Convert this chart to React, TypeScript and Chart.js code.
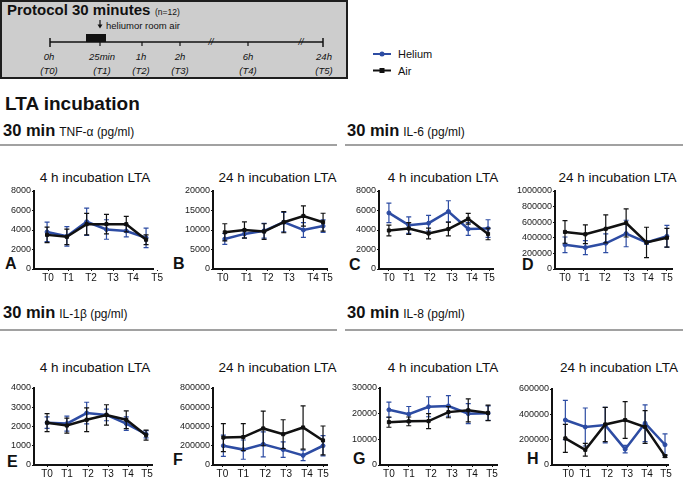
import React, { useEffect, useRef } from 'react';
import { Chart, registerables } from 'chart.js';

Chart.register(...registerables);

const FONT = '"Liberation Sans", Arial, Helvetica, sans-serif';
const HELIUM_COLOR = '#2d4ca3';
const AIR_COLOR = '#111111';

// ---- data ----
const timeLabels = ['T0', 'T1', 'T2', 'T3', 'T4', 'T5'];

// TNF-α
const tnf4hHelium = [3800, 3350, 4850, 4050, 3900, 3200];
const tnf4hHeliumErr = [1000, 1000, 1400, 1000, 600, 1000];
const tnf4hAir = [3500, 3300, 4600, 4600, 4600, 3000];
const tnf4hAirErr = [800, 800, 1100, 1000, 800, 500];

const tnf24hHelium = [7700, 9000, 9800, 12000, 10000, 11000];
const tnf24hHeliumErr = [1400, 1000, 1900, 2500, 1900, 1600];
const tnf24hAir = [9400, 10000, 9600, 12000, 13600, 12000];
const tnf24hAirErr = [2200, 2100, 2000, 2700, 2600, 2300];

// IL-6
const il6_4hHelium = [5750, 4500, 4700, 5900, 4100, 4150];
const il6_4hHeliumErr = [1000, 850, 800, 1100, 650, 900];
const il6_4hAir = [3950, 4150, 3650, 4100, 5150, 3600];
const il6_4hAirErr = [550, 600, 550, 700, 550, 600];

const il6_24hHelium = [310000, 275000, 330000, 455000, 340000, 420000];
const il6_24hHeliumErr = [100000, 90000, 120000, 170000, 20000, 140000];
const il6_24hAir = [475000, 445000, 515000, 590000, 340000, 400000];
const il6_24hAirErr = [145000, 120000, 180000, 180000, 195000, 120000];

// IL-1β
const il1b_4hHelium = [2200, 2150, 2700, 2600, 2150, 1600];
const il1b_4hHeliumErr = [300, 390, 560, 300, 350, 190];
const il1b_4hAir = [2200, 2050, 2350, 2600, 2350, 1550];
const il1b_4hAirErr = [470, 390, 620, 530, 460, 260];

const il1b_24hHelium = [200000, 160000, 215000, 160000, 100000, 200000];
const il1b_24hHeliumErr = [110000, 100000, 130000, 80000, 55000, 105000];
const il1b_24hAir = [285000, 290000, 380000, 320000, 390000, 255000];
const il1b_24hAirErr = [145000, 140000, 180000, 150000, 225000, 150000];

// IL-8
const il8_4hHelium = [21500, 19800, 22700, 23000, 20000, 20200];
const il8_4hHeliumErr = [3000, 3000, 3900, 4000, 3900, 2800];
const il8_4hAir = [16700, 17000, 17100, 20600, 21300, 20300];
const il8_4hAirErr = [2000, 1700, 2900, 2200, 4500, 3000];

const il8_24hHelium = [355000, 300000, 315000, 125000, 330000, 160000];
const il8_24hHeliumErr = [155000, 150000, 140000, 30000, 145000, 85000];
const il8_24hAir = [210000, 120000, 320000, 355000, 300000, 70000];
const il8_24hAirErr = [110000, 50000, 135000, 145000, 130000, 10000];

// ---- layout (page pixels for plot areas, tick label positions in index units) ----
const Y_AXIS_W = 44;
const PAD_TOP = 8;
const PAD_RIGHT = 12;
const X_AXIS_H = 16;

type PanelCfg = {
  helium: number[]; heliumErr: number[]; air: number[]; airErr: number[];
  yMax: number; yStep: number;
  left: number; right: number; top: number; bottom: number;
  xMin: number; xMax: number; tickPos: number[];
};

const panels: PanelCfg[] = [
  { helium: tnf4hHelium, heliumErr: tnf4hHeliumErr, air: tnf4hAir, airErr: tnf4hAirErr,
    yMax: 8000, yStep: 2000, left: 34, right: 153, top: 191, bottom: 269,
    xMin: -0.66, xMax: 5.35, tickPos: [0.05, 1.06, 2.22, 3.33, 4.34, 5.56] },
  { helium: tnf24hHelium, heliumErr: tnf24hHeliumErr, air: tnf24hAir, airErr: tnf24hAirErr,
    yMax: 20000, yStep: 5000, left: 213, right: 327, top: 191, bottom: 269,
    xMin: -0.6, xMax: 5.2, tickPos: [-0.1, 1.12, 2.19, 3.27, 4.49, 5.2] },
  { helium: il6_4hHelium, heliumErr: il6_4hHeliumErr, air: il6_4hAir, airErr: il6_4hAirErr,
    yMax: 8000, yStep: 2000, left: 379, right: 493, top: 191, bottom: 269,
    xMin: -0.5, xMax: 5.25, tickPos: [0, 1.01, 2.07, 3.18, 4.19, 5.05] },
  { helium: il6_24hHelium, heliumErr: il6_24hHeliumErr, air: il6_24hAir, airErr: il6_24hAirErr,
    yMax: 1000000, yStep: 200000, left: 555, right: 672, top: 191, bottom: 269,
    xMin: -0.49, xMax: 5.25, tickPos: [0, 0.93, 1.96, 3.14, 4.07, 5] },
  { helium: il1b_4hHelium, heliumErr: il1b_4hHeliumErr, air: il1b_4hAir, airErr: il1b_4hAirErr,
    yMax: 4000, yStep: 1000, left: 34, right: 152, top: 388, bottom: 465,
    xMin: -0.66, xMax: 5.3, tickPos: [0, 1.01, 2.07, 3.08, 4.09, 5.05] },
  { helium: il1b_24hHelium, heliumErr: il1b_24hHeliumErr, air: il1b_24hAir, airErr: il1b_24hAirErr,
    yMax: 800000, yStep: 200000, left: 213, right: 327, top: 388, bottom: 465,
    xMin: -0.52, xMax: 5.2, tickPos: [-0.05, 1, 2.1, 3.15, 4.2, 5] },
  { helium: il8_4hHelium, heliumErr: il8_4hHeliumErr, air: il8_4hAir, airErr: il8_4hAirErr,
    yMax: 30000, yStep: 10000, left: 380, right: 497, top: 388, bottom: 465,
    xMin: -0.45, xMax: 5.45, tickPos: [0, 1.01, 2.12, 3.18, 4.19, 5.2] },
  { helium: il8_24hHelium, heliumErr: il8_24hHeliumErr, air: il8_24hAir, airErr: il8_24hAirErr,
    yMax: 600000, yStep: 200000, left: 552, right: 668, top: 389, bottom: 465,
    xMin: -0.67, xMax: 5.15, tickPos: [0.15, 1, 2.1, 3.1, 4.1, 5.05] },
];

const errorBarPlugin = {
  id: 'errorBars',
  afterDatasetDraw(chart: any, args: any) {
    const ds = chart.data.datasets[args.index];
    const errs: number[] = ds.errors;
    if (!errs) return;
    const yScale = chart.scales.y;
    const ctx = chart.ctx;
    ctx.save();
    ctx.strokeStyle = ds.borderColor;
    ctx.lineWidth = 1.2;
    args.meta.data.forEach((pt: any, j: number) => {
      const v = ds.data[j].y;
      const yTop = yScale.getPixelForValue(v + errs[j]);
      const yBot = yScale.getPixelForValue(Math.max(0, v - errs[j]));
      const x = pt.x;
      ctx.beginPath();
      ctx.moveTo(x, yTop);
      ctx.lineTo(x, yBot);
      ctx.moveTo(x - 2.5, yTop);
      ctx.lineTo(x + 2.5, yTop);
      ctx.moveTo(x - 2.5, yBot);
      ctx.lineTo(x + 2.5, yBot);
      ctx.stroke();
    });
    ctx.restore();
  },
};

function Panel({ cfg }: { cfg: PanelCfg }) {
  const ref = useRef<HTMLCanvasElement | null>(null);
  const w = cfg.right - cfg.left + Y_AXIS_W + PAD_RIGHT;
  const h = cfg.bottom - cfg.top + PAD_TOP + X_AXIS_H;
  useEffect(() => {
    if (!ref.current) return;
    const chart = new Chart(ref.current, {
      type: 'line',
      data: {
        datasets: [
          {
            label: 'Air',
            data: cfg.air.map((v, i) => ({ x: i, y: v })),
            errors: cfg.airErr,
            borderColor: AIR_COLOR,
            backgroundColor: AIR_COLOR,
            borderWidth: 2.5,
            pointStyle: 'rect',
            pointRadius: 2.2,
            pointBorderWidth: 1,
            tension: 0,
          } as any,
          {
            label: 'Helium',
            data: cfg.helium.map((v, i) => ({ x: i, y: v })),
            errors: cfg.heliumErr,
            borderColor: HELIUM_COLOR,
            backgroundColor: HELIUM_COLOR,
            borderWidth: 2.5,
            pointStyle: 'circle',
            pointRadius: 2,
            pointBorderWidth: 1,
            tension: 0,
          } as any,
        ],
      },
      options: {
        responsive: false,
        animation: false,
        devicePixelRatio: 1,
        events: [],
        layout: { padding: { left: 0, top: PAD_TOP, right: PAD_RIGHT, bottom: 0 } },
        plugins: { legend: { display: false }, tooltip: { enabled: false }, title: { display: false } },
        scales: {
          x: {
            type: 'linear',
            min: cfg.xMin,
            max: cfg.xMax,
            afterBuildTicks: (s: any) => {
              s.ticks = cfg.tickPos.map((v) => ({ value: v }));
            },
            afterFit: (s: any) => {
              s.height = X_AXIS_H;
              s.paddingLeft = 0;
              s.paddingRight = 0;
            },
            ticks: {
              autoSkip: false,
              maxRotation: 0,
              minRotation: 0,
              padding: 1,
              color: '#111',
              font: { family: FONT, size: 10 },
              callback: (_v: any, i: number) => timeLabels[i],
            },
            grid: { display: true, drawOnChartArea: false, drawTicks: true, tickLength: 2, color: '#111', lineWidth: 1 },
            border: { display: true, color: '#111', width: 2 },
          },
          y: {
            type: 'linear',
            min: 0,
            max: cfg.yMax,
            afterFit: (s: any) => {
              s.width = Y_AXIS_W;
              s.paddingTop = 0;
              s.paddingBottom = 0;
            },
            ticks: {
              stepSize: cfg.yStep,
              padding: 1,
              color: '#222',
              font: { family: FONT, size: 9 },
              callback: (v: any) => String(v),
            },
            grid: { display: true, drawOnChartArea: false, drawTicks: true, tickLength: 2, color: '#111', lineWidth: 1 },
            border: { display: true, color: '#111', width: 2 },
          },
        },
      } as any,
      plugins: [errorBarPlugin as any],
    });
    return () => chart.destroy();
  }, [cfg]);
  return (
    <canvas
      ref={ref}
      width={w}
      height={h}
      style={{ position: 'absolute', left: cfg.left - Y_AXIS_W, top: cfg.top - PAD_TOP, width: w, height: h }}
    />
  );
}

const panelTitles = [
  { text: '4 h incubation LTA', x: 95, y: 182 },
  { text: '24 h incubation LTA', x: 277.5, y: 182 },
  { text: '4 h incubation LTA', x: 443, y: 182 },
  { text: '24 h incubation LTA', x: 617.5, y: 182 },
  { text: '4 h incubation LTA', x: 95, y: 371.5 },
  { text: '24 h incubation LTA', x: 277.5, y: 371.5 },
  { text: '4 h incubation LTA', x: 443, y: 371.5 },
  { text: '24 h incubation LTA', x: 619, y: 371.5 },
];

const panelLetters = [
  { t: 'A', x: 5, y: 268.5 }, { t: 'B', x: 173, y: 268.5 }, { t: 'C', x: 349, y: 269.5 }, { t: 'D', x: 522, y: 269.5 },
  { t: 'E', x: 7, y: 467 }, { t: 'F', x: 173, y: 465 }, { t: 'G', x: 353, y: 463.5 }, { t: 'H', x: 527, y: 463.5 },
];

const headers = [
  { label: 'TNF-α (pg/ml)', x: 3, y: 136 },
  { label: 'IL-6 (pg/ml)', x: 347, y: 136 },
  { label: 'IL-1β (pg/ml)', x: 3, y: 317.5 },
  { label: 'IL-8 (pg/ml)', x: 347, y: 317.5 },
];

const timelineMarks = [
  { top: '0h', bottom: '(T0)', x: 49 },
  { top: '25min', bottom: '(T1)', x: 102 },
  { top: '1h', bottom: '(T2)', x: 141 },
  { top: '2h', bottom: '(T3)', x: 180 },
  { top: '6h', bottom: '(T4)', x: 248 },
  { top: '24h', bottom: '(T5)', x: 324 },
];

export default function App() {
  return (
    <div style={{ position: 'absolute', left: 0, top: 0, width: 685, height: 482, background: '#fff', overflow: 'hidden' }}>
      <svg width={685} height={482} style={{ position: 'absolute', left: 0, top: 0 }} fontFamily={FONT}>
        {/* protocol box */}
        <rect x={1} y={1} width={346} height={77} fill="#cdcdcd" stroke="#1e1e1e" strokeWidth={2} />
        <text x={7} y={15} fontSize={15} fontWeight="bold" fill="#111">Protocol 30 minutes</text>
        <text x={155} y={15} fontSize={8.5} fill="#111">(n=12)</text>
        <line x1={100} y1={20} x2={100} y2={25} stroke="#111" strokeWidth={1.2} />
        <polygon points="97.5,24.5 102.5,24.5 100,28.5" fill="#111" />
        <text x={106} y={28.5} fontSize={9.5} fill="#111">heliumor room air</text>
        <line x1={50} y1={42} x2={323} y2={42} stroke="#111" strokeWidth={1.5} />
        <line x1={50} y1={38} x2={50} y2={47} stroke="#111" strokeWidth={1.5} />
        <line x1={323} y1={38} x2={323} y2={47} stroke="#111" strokeWidth={1.5} />
        {[100, 142, 180, 248].map((x) => (
          <line key={x} x1={x} y1={42} x2={x} y2={46} stroke="#111" strokeWidth={1.2} />
        ))}
        <rect x={86} y={34} width={20} height={8} fill="#111" />
        <text x={211} y={45} fontSize={9} fontStyle="italic" textAnchor="middle" fill="#111">//</text>
        <text x={301} y={45} fontSize={9} fontStyle="italic" textAnchor="middle" fill="#111">//</text>
        {timelineMarks.map((m) => (
          <g key={m.bottom}>
            <text x={m.x} y={60} fontSize={9.5} fontStyle="italic" textAnchor="middle" fill="#111">{m.top}</text>
            <text x={m.x} y={74} fontSize={9.5} fontStyle="italic" textAnchor="middle" fill="#111">{m.bottom}</text>
          </g>
        ))}

        {/* legend */}
        <line x1={373} y1={54} x2={391} y2={54} stroke={HELIUM_COLOR} strokeWidth={2} />
        <circle cx={382} cy={54} r={2.5} fill={HELIUM_COLOR} />
        <text x={398} y={58} fontSize={11} fill="#111">Helium</text>
        <line x1={373} y1={70.5} x2={391} y2={70.5} stroke={AIR_COLOR} strokeWidth={2} />
        <rect x={379.5} y={68} width={5} height={5} fill={AIR_COLOR} />
        <text x={398} y={74.5} fontSize={11} fill="#111">Air</text>

        <text x={5} y={110} fontSize={19} fontWeight="bold" fill="#111">LTA incubation</text>

        {headers.map((hd) => (
          <text key={hd.label} x={hd.x} y={hd.y} fill="#111">
            <tspan fontWeight="bold" fontSize={16.5}>30 min</tspan>
            <tspan fontSize={12} dx={4}>{hd.label}</tspan>
          </text>
        ))}
        <line x1={0} y1={145} x2={337} y2={145} stroke="#444" strokeWidth={1.2} />
        <line x1={345} y1={145} x2={683} y2={145} stroke="#444" strokeWidth={1.2} />
        <line x1={0} y1={330} x2={337} y2={330} stroke="#444" strokeWidth={1.2} />
        <line x1={345} y1={330} x2={683} y2={330} stroke="#444" strokeWidth={1.2} />

        {panelTitles.map((t, i) => (
          <text key={i} x={t.x} y={t.y} fontSize={13.5} textAnchor="middle" fill="#111">{t.text}</text>
        ))}
        {panelLetters.map((l) => (
          <text key={l.t} x={l.x} y={l.y} fontSize={16} fontWeight="bold" fill="#111">{l.t}</text>
        ))}
      </svg>
      {panels.map((p, i) => (
        <Panel key={i} cfg={p} />
      ))}
    </div>
  );
}
